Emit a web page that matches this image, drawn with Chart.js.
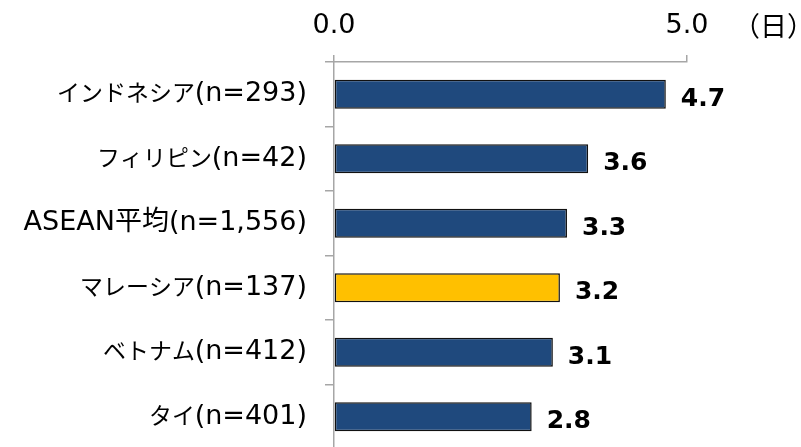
<!DOCTYPE html>
<html>
<head>
<meta charset="utf-8">
<script src="https://cdn.jsdelivr.net/npm/chart.js@4/dist/chart.umd.min.js"></script>
<style>
  html, body { margin: 0; padding: 0; background: #fff; overflow: hidden; }
  canvas { display: block; }
</style>
</head>
<body>
<canvas id="c" width="801" height="449"></canvas>
<script>
// Average number of days, by country
const categories = ['インドネシア(n=293)', 'フィリピン(n=42)', 'ASEAN平均(n=1,556)', 'マレーシア(n=137)', 'ベトナム(n=412)', 'タイ(n=401)'];
const values = [4.7, 3.6, 3.3, 3.2, 3.1, 2.8];
const highlight = ['マレーシア(n=137)'];
const tickValues = [0, 5];
const unitLabel = '（日）';

const NAVY = '#1F497D';
const GOLD = '#FFC000';
const AXIS = '#A6A6A6';
// Latin in DejaVu Sans, kana in a slightly condensed CJK face, kanji in regular CJK
const FONT = '"DejaVu Sans", "KanaNarrow", "Noto Sans CJK JP", sans-serif';
const CJK = '"Noto Sans CJK JP", sans-serif';

const barColors = categories.map(c => highlight.includes(c) ? GOLD : NAVY);

// Bold value labels after each bar, plus the unit beside the top axis
const valueLabels = {
  id: 'valueLabels',
  afterDatasetsDraw(chart) {
    const ctx = chart.ctx;
    const meta = chart.getDatasetMeta(0);
    ctx.save();
    ctx.fillStyle = '#000';
    ctx.font = 'bold 25px "DejaVu Sans", sans-serif';
    ctx.textAlign = 'left';
    ctx.textBaseline = 'middle';
    meta.data.forEach((bar, i) => {
      ctx.fillText(values[i].toFixed(1), bar.x + 15, bar.y + 5);
    });
    ctx.font = '27px ' + CJK;
    ctx.fillText(unitLabel, 733, 26);
    ctx.restore();
  }
};

function draw() {
  new Chart(document.getElementById('c'), {
    type: 'bar',
    data: {
      labels: categories,
      datasets: [{
        data: values,
        backgroundColor: barColors,
        borderColor: '#111',
        borderWidth: 1.5,
        borderSkipped: false,
        barPercentage: 0.45,
        categoryPercentage: 1
      }]
    },
    options: {
      indexAxis: 'y',
      responsive: false,
      animation: false,
      layout: { padding: { left: 0, right: 114, top: 0, bottom: 0 } },
      plugins: { legend: { display: false }, tooltip: { enabled: false } },
      scales: {
        x: {
          position: 'top',
          min: 0,
          max: 5,
          afterBuildTicks(scale) { scale.ticks = tickValues.map(v => ({ value: v })); },
          afterFit(scale) { scale.height = 62; },
          ticks: {
            color: '#000',
            font: { family: FONT, size: 27 },
            padding: 13,
            maxRotation: 0,
            callback: v => Number(v).toFixed(1)
          },
          grid: { drawOnChartArea: false, drawTicks: true, tickLength: 7, color: AXIS, lineWidth: 1.5 },
          border: { display: true, color: AXIS, width: 1.5 }
        },
        y: {
          afterFit(scale) {
            scale.width = 334;
            scale.paddingTop = 0;
            scale.paddingBottom = 0;
          },
          ticks: {
            color: '#000',
            font: { family: FONT, size: 27 },
            padding: 18
          },
          grid: { drawOnChartArea: false, drawTicks: true, tickLength: 9, color: AXIS, lineWidth: 1.5, offset: true },
          border: { display: true, color: AXIS, width: 1.5 }
        }
      }
    },
    plugins: [valueLabels]
  });
}

// Condensed kana face built from the installed CJK font
const kana = new FontFace('KanaNarrow',
  'local("Noto Sans CJK JP Regular"), local("NotoSansCJKjp-Regular"), local("Noto Sans CJK JP")',
  { unicodeRange: 'U+3000-30FF', sizeAdjust: '85%' });
kana.load()
  .then(f => { document.fonts.add(f); })
  .catch(() => {})
  .then(() => document.fonts.load('27px "Noto Sans CJK JP"', '平均日'))
  .catch(() => {})
  .then(draw);
</script>
</body>
</html>
